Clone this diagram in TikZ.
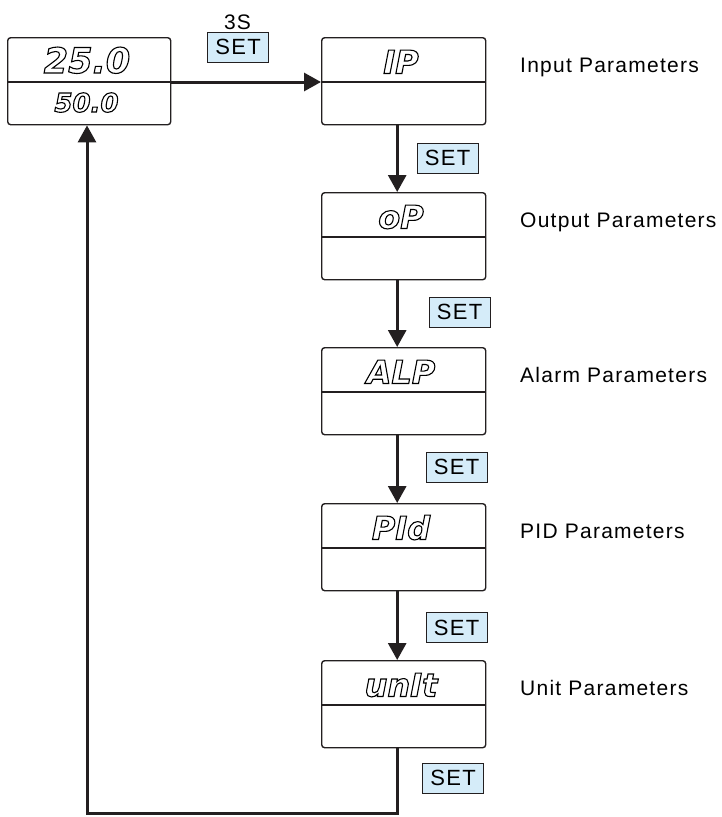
\documentclass[tikz,border=0pt]{standalone}
\usepackage{fontspec}
\setmainfont{Liberation Sans}[LetterSpace=6]
\newfontfamily\segfont{DejaVu Sans}
\usetikzlibrary{arrows.meta}
\definecolor{setblue}{HTML}{D5ECF9}
\definecolor{ink}{HTML}{231F20}
\newcommand\outl[1]{\special{pdf:literal direct 1 Tr 1.1 w}#1\special{pdf:literal direct 0 Tr}}
\begin{document}
\begin{tikzpicture}[x=1pt,y=-1pt,
  box/.style={draw=ink, line width=1.4pt, rounded corners=3pt, minimum width=164pt, minimum height=87pt, inner sep=0pt, anchor=north west},
  divline/.style={draw=ink, line width=1.4pt},
  setbox/.style={draw=ink, line width=1pt, fill=setblue, minimum width=61pt, minimum height=30pt, inner sep=0pt, font=\fontsize{22}{22}\selectfont},
  lbl/.style={anchor=west, inner sep=0pt, text height=15pt, text depth=0pt, font=\fontsize{21}{21}\selectfont},
  seg/.style={inner sep=0pt, text depth=0pt, text height=24pt, font=\segfont\bfseries\itshape\fontsize{32}{32}\selectfont},
  conn/.style={draw=ink, line width=3pt, -{Triangle[length=17pt,width=18pt]}},
]
\useasboundingbox (0,0) rectangle (721,817);
% main display
\node[box, minimum width=163pt] (main) at (7,37) {};
\draw[divline] ([yshift=-45pt]main.north west) -- ([yshift=-45pt]main.north east);
\node[seg, text height=26pt, font=\segfont\bfseries\itshape\fontsize{35}{35}\selectfont] (mainT) at (87,60) {\outl{25.0}};
\node[seg, text height=19pt, font=\segfont\bfseries\itshape\fontsize{26}{26}\selectfont] (mainB) at (86.5,102.5) {\outl{50.0}};
% menu boxes
\foreach \nm/\tp/\txt/\lab in {ip/37/IP/Input Parameters, op/192/oP/Output Parameters, alp/347/ALP/Alarm Parameters, pid/503/PId/PID Parameters, unit/660/unIt/Unit Parameters}{
  \node[box] (\nm) at (321,\tp) {};
  \draw[divline] ([yshift=-45pt]\nm.north west) -- ([yshift=-45pt]\nm.north east);
  \node[seg] (\nm T) at (401,\tp+24.5) {\outl{\txt}};
  \node[lbl] (\nm L) at (520,\tp+27.5) {\lab};
}
% top arrow
\node[lbl, anchor=center] (threes) at (237.5,21.5) {3S};
\node[setbox] (set0) at (238,47) {SET};
\draw[conn] ([yshift=-45pt]main.north east) -- ([yshift=-45pt]ip.north west);
% vertical arrows
\draw[conn] ([xshift=-6.5pt]ip.south) -- ([xshift=-6.5pt]op.north);
\draw[conn] ([xshift=-6.5pt]op.south) -- ([xshift=-6.5pt]alp.north);
\draw[conn] ([xshift=-6.5pt]alp.south) -- ([xshift=-6.5pt]pid.north);
\draw[conn] ([xshift=-6.5pt]pid.south) -- ([xshift=-6.5pt]unit.north);
\node[setbox] (set1) at (447.5,158) {SET};
\node[setbox] (set2) at (459.5,312) {SET};
\node[setbox] (set3) at (456.7,467.2) {SET};
\node[setbox] (set4) at (456.5,627.5) {SET};
\node[setbox] (set5) at (453,778) {SET};
% return
\coordinate (ret) at (87,813);
\draw[conn] ([xshift=-6pt]unit.south) |- (ret) -- (main.south -| ret);
\end{tikzpicture}
\end{document}
